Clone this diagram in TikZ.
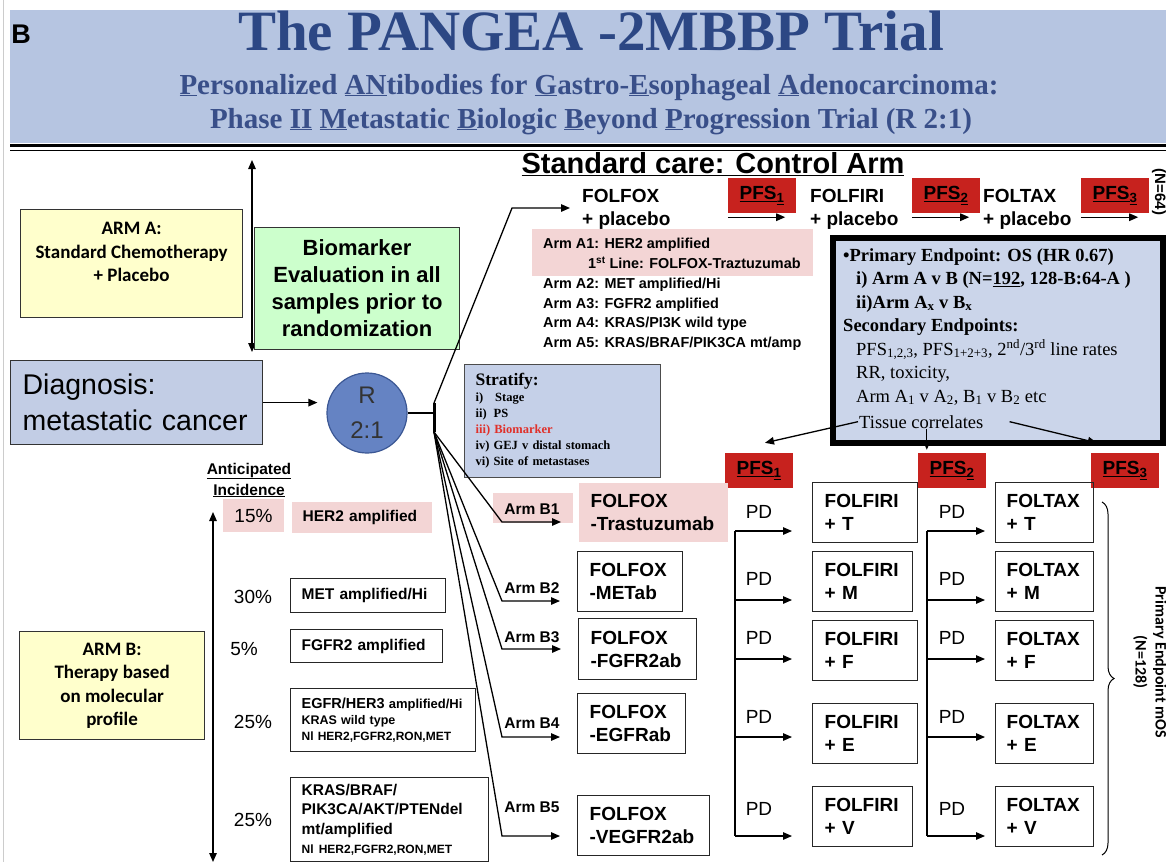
\documentclass[tikz,border=0pt]{standalone}
\usepackage{fontspec}
\setmainfont{Liberation Sans}
\newfontfamily\timesfont{Liberation Serif}
\newfontfamily\califont{Carlito}
\usetikzlibrary{arrows.meta}
\usetikzlibrary{calc}
\usetikzlibrary{decorations.pathreplacing}

\definecolor{bannerblue}{HTML}{B6C5E1}
\definecolor{titleblue}{HTML}{2C4784}
\definecolor{subblue}{HTML}{394F89}
\definecolor{diagblue}{HTML}{C2CDE5}
\definecolor{circblue}{HTML}{6583C3}
\definecolor{circedge}{HTML}{3B5794}
\definecolor{stratblue}{HTML}{C5D0E8}
\definecolor{endblue}{HTML}{CBD5EA}
\definecolor{armyellow}{HTML}{FFFFCC}
\definecolor{biogreen}{HTML}{CCFFCC}
\definecolor{herpink}{HTML}{F3D5D5}
\definecolor{pfsred}{HTML}{C7221E}
\definecolor{biored}{HTML}{E0302A}

\tikzset{
  armbox/.style={draw=black!80,line width=1.2pt,fill=armyellow,anchor=north west,
    inner sep=0pt,align=center,font=\califont\bfseries\fontsize{19}{23.5}\selectfont},
  drugbox/.style={draw=black!85,line width=1.3pt,anchor=north west,align=left,
    inner xsep=12pt,inner ysep=0pt,font=\bfseries\fontsize{19}{23}\selectfont},
  markbox/.style={draw=black!85,line width=1.3pt,anchor=north west,align=left,
    inner xsep=11pt,inner ysep=0pt,font=\bfseries\fontsize{15.5}{19.5}\selectfont},
  pfsbox/.style={fill=pfsred,minimum width=68pt,minimum height=35pt,inner sep=0pt,
    font=\bfseries\fontsize{19}{20}\selectfont},
  ctlarm/.style={anchor=west,inner sep=0pt,align=left,font=\bfseries\fontsize{19}{23}\selectfont},
  pct/.style={font=\fontsize{19}{22}\selectfont},
  pdlbl/.style={font=\fontsize{19}{22}\selectfont},
  armlbl/.style={font=\bfseries\fontsize{15.5}{18}\selectfont},
  arr/.style={->,line width=1.3pt},
}

\begin{document}
\begin{tikzpicture}[x=1pt,y=-1pt,>={Triangle[length=9pt,width=7.5pt]}]

  \useasboundingbox (0,0) rectangle (1166,862);
  \fill[white] (0,0) rectangle (1166,862);

  % banner
  \fill[bannerblue] (10,10) rectangle (1166,143);
  \draw[line width=3pt] (10,145) -- (1166,145);
  \draw[line width=1.2pt] (10,150.5) -- (1166,150.5);
  \draw[black!20,line width=0.8pt] (3,0) -- (3,862);

  \node[font=\bfseries\fontsize{27}{28}\selectfont] (panel) at (21,34) {B};
  \node[font=\timesfont\bfseries\fontsize{57}{60}\selectfont,text=titleblue,anchor=base] (title)
    at (591,50) {The PANGEA -2MBBP Trial};
  \node[font=\timesfont\bfseries\fontsize{29}{30}\selectfont,text=subblue,anchor=base] (subA)
    at (589,94) {\underline{P}ersonalized \underline{AN}tibodies for \underline{G}astro-\underline{E}sophageal \underline{A}denocarcinoma:};
  \node[font=\timesfont\bfseries\fontsize{29}{30}\selectfont,text=subblue,anchor=base] (subB)
    at (591,128) {Phase \underline{II} \underline{M}etastatic \underline{B}iologic \underline{B}eyond \underline{P}rogression Trial (R 2:1)};

  % left column
  \node[armbox,minimum width=222pt,minimum height=108pt] (armA) at (20,209)
    {ARM A:\\Standard Chemotherapy\\+ Placebo\\\mbox{}};
  \node[armbox,minimum width=185pt,minimum height=108pt] (armB) at (19,631)
    {ARM B:\\Therapy based\\on molecular\\profile};

  \coordinate (evtop) at (252,160);
  \coordinate (evbot) at (252,352);
  \draw[<->,line width=1.3pt] (evtop) -- (evbot);

  \node[draw=black!80,line width=1.2pt,fill=biogreen,anchor=north west,minimum width=205pt,
    minimum height=122pt,inner sep=0pt,align=center,font=\bfseries\fontsize{22}{27}\selectfont] (bio)
    at (254,227) {Biomarker\\Evaluation in all\\samples prior to\\randomization};

  \node[draw=black!80,line width=1.2pt,fill=diagblue,anchor=north west,minimum height=84pt,
    text width=228pt,inner xsep=12pt,inner ysep=0pt,align=left,font=\fontsize{28.5}{36}\selectfont] (diag)
    at (10,360) {Diagnosis:\\metastatic cancer};

  \node[circle,fill=circblue,draw=circedge,line width=1.2pt,minimum size=80pt,inner sep=0pt,
    align=center,text=black!80,font=\fontsize{24}{35}\selectfont] (rand) at (367,413) {R\\2:1};

  \draw[arr,shorten >=9pt] (diag.east) -- (diag.east -| rand.west);

  \coordinate (bartop) at (434,403);
  \coordinate (barbot) at (434,432);
  \draw[line width=1.3pt] (rand.east) -- (rand.east -| bartop);
  \draw[line width=3pt] (bartop) -- (barbot);

  % incidence
  \node[font=\bfseries\fontsize{15.5}{21}\selectfont,align=center] (inc) at (249,480)
    {\underline{Anticipated}\\\underline{Incidence}};
  \coordinate (inctop) at (213,512);
  \coordinate (incbot) at (213,862);
  \draw[<->,line width=1.3pt] (inctop) -- (incbot);

  \node[fill=herpink,minimum width=61pt,minimum height=33pt,inner sep=0pt,pct] (pc1) at (253.5,515.5) {15\%};
  \node[markbox,draw=none,fill=herpink,text width=118pt,minimum height=31pt] (mk1) at (291,501) {HER2 amplified};
  \node[pct] (pc2) at (253,597) {30\%};
  \node[markbox,text width=133pt,minimum height=34pt] (mk2) at (290,578) {MET amplified/Hi};
  \node[pct] (pc3) at (244,649) {5\%};
  \node[markbox,text width=130pt,minimum height=33pt] (mk3) at (290,629) {FGFR2 amplified};
  \node[pct] (pc4) at (253,722) {25\%};
  \node[markbox,text width=163pt,minimum height=63pt,font=\bfseries\fontsize{12.5}{16}\selectfont] (mk4) at (290,688)
    {{\fontsize{14.5}{16}\selectfont EGFR/HER3} {\fontsize{13}{16}\selectfont amplified/Hi}\\KRAS wild type\\{\fontsize{12}{16}\selectfont Nl HER2,FGFR2,RON,MET}};
  \node[pct] (pc5) at (253,820) {25\%};
  \node[markbox,text width=176pt,minimum height=84pt] (mk5) at (290,777)
    {KRAS/BRAF/\\PIK3CA/AKT/PTENdel\\mt/amplified\\{\fontsize{12}{14}\selectfont Nl HER2,FGFR2,RON,MET}};

  % stratification
  \node[draw=black!70,line width=1.2pt,fill=stratblue,anchor=north west,minimum height=113pt,
    text width=174pt,inner xsep=11pt,inner ysep=0pt,align=left,
    font=\timesfont\bfseries\fontsize{12.5}{16}\selectfont] (strat) at (464,364)
    {{\fontsize{17.5}{20}\selectfont Stratify:}\\
     i)\hspace{12pt}Stage\\
     ii)\hspace{7pt}PS\\
     \textcolor{biored}{iii) Biomarker}\\
     iv) GEJ v distal stomach\\
     vi) Site of metastases};

  % control arm
  \node[font=\bfseries\fontsize{29}{30}\selectfont] (ctltitle) at (713,164) {\underline{Standard care: Control Arm}};
  \node[ctlarm] (ctlA) at (582,209) {FOLFOX\\+ placebo};
  \node[ctlarm] (ctlB) at (810,209) {FOLFIRI\\+ placebo};
  \node[ctlarm] (ctlC) at (983,209) {FOLTAX\\+ placebo};
  \node[pfsbox] (pfsA1) at (762,195.5) {\underline{PFS}\textsubscript{\underline{1}}};
  \node[pfsbox] (pfsA2) at (946,195.5) {\underline{PFS}\textsubscript{\underline{2}}};
  \node[pfsbox] (pfsA3) at (1115,195.5) {\underline{PFS}\textsubscript{\underline{3}}};
  \foreach \p in {A1,A2,A3}
    \draw[arr] ([yshift=-4pt]pfs\p.south west) -- ([xshift=-11pt,yshift=-4pt]pfs\p.south east);
  \node[rotate=-90,font=\bfseries\fontsize{15}{16}\selectfont] (n64) at (1159,192) {(N=64)};

  \node[fill=herpink,anchor=north west,minimum width=281pt,minimum height=47pt,inner sep=0pt] (pinkA) at (532,229) {};
  \node[anchor=north west,inner sep=0pt,align=left,font=\bfseries\fontsize{14.4}{19.8}\selectfont] (armlist) at (543,238)
    {Arm A1: HER2 amplified\\
     \hspace*{45pt}1\textsuperscript{st} Line: FOLFOX-Traztuzumab\\
     Arm A2: MET amplified/Hi\\
     Arm A3: FGFR2 amplified\\
     Arm A4: KRAS/PI3K wild type\\
     Arm A5: KRAS/BRAF/PIK3CA mt/amp};

  \coordinate (ctlbend) at (512,208);
  \draw[arr,shorten >=12pt] (bartop) -- (ctlbend) -- (ctlbend -| ctlA.west);

  % endpoints
  \node[fill=endblue,draw=black,line width=4.5pt,anchor=north west,minimum width=331pt,
    minimum height=206pt,inner sep=0pt] (endpt) at (830,235) {};
  \draw[line width=0.9pt] ([shift={(5.5pt,-5.5pt)}]endpt.north west) rectangle ([shift={(-5.5pt,5.5pt)}]endpt.south east);
  \node[anchor=north west,inner sep=0pt,align=left,font=\timesfont\fontsize{18.5}{23.5}\selectfont] (eptxt) at (843,248)
    {\textbf{\textbullet Primary Endpoint: OS (HR 0.67)}\\
     \hspace*{13pt}\textbf{i) Arm A v B (N=\underline{192}, 128-B:64-A )}\\
     \hspace*{13pt}\textbf{ii)Arm A\textsubscript{x} v B\textsubscript{x}}\\
     \textbf{Secondary Endpoints:}\\
     \hspace*{13pt}PFS\textsubscript{1,2,3}, PFS\textsubscript{1+2+3}, 2\textsuperscript{nd}/3\textsuperscript{rd} line rates\\
     \hspace*{13pt}RR, toxicity,\\
     \hspace*{13pt}Arm A\textsubscript{1} v A\textsubscript{2}, B\textsubscript{1} v B\textsubscript{2} etc};
  \node[anchor=base west,inner sep=1pt,font=\timesfont\fontsize{18.5}{23.5}\selectfont] (tissue) at (858,428) {Tissue correlates};

  % experimental arm
  \node[pfsbox] (pfsB1) at (759,470.5) {\underline{PFS}\textsubscript{\underline{1}}};
  \node[pfsbox] (pfsB2) at (952,470.5) {\underline{PFS}\textsubscript{\underline{2}}};
  \node[pfsbox] (pfsB3) at (1125,470.5) {\underline{PFS}\textsubscript{\underline{3}}};

  \draw[arr] (tissue.west) -- ([xshift=6pt,yshift=10pt]pfsB1.north);
  \draw[arr] ([xshift=9pt]pfsB2.north west |- tissue.south) -- ([xshift=9pt,yshift=3pt]pfsB2.north west);
  \draw[arr] ([xshift=25pt]tissue.east) -- ([xshift=6pt,yshift=10pt]pfsB3.north west);

  \node[fill=herpink,minimum width=80pt,minimum height=30pt,inner sep=0pt] (pinkB1) at (533,508) {};
  \node[drugbox,draw=none,fill=herpink,text width=125pt,minimum height=59pt] (fB1) at (578,482) {FOLFOX\\-Trastuzumab};
  \node[drugbox,text width=81pt,minimum height=60pt] (fB2) at (577,551) {FOLFOX\\-METab};
  \node[drugbox,text width=94pt,minimum height=61pt] (fB3) at (578,618) {FOLFOX\\-FGFR2ab};
  \node[drugbox,text width=84pt,minimum height=60pt] (fB4) at (577,693) {FOLFOX\\-EGFRab};
  \node[drugbox,text width=108pt,minimum height=60pt] (fB5) at (577,795) {FOLFOX\\-VEGFR2ab};

  \foreach \i/\ya/\yl in {1/522/509, 2/601/588, 3/649/637, 4/737/723, 5/836/807} {
    \coordinate (bend\i) at (502,\ya);
    \draw[arr,shorten >=17pt] (barbot) -- (bend\i) -- (bend\i -| fB\i.west);
    \node[armlbl] (lblB\i) at (532,\yl) {Arm B\i};
  }

  \foreach \rw/\yt/\ya/\yp/\w in {T/482/531/512/81, M/551/600/579/76, F/620/659/638/81,
                                  E/703/737/717/81, V/786/836/809/76} {
    \node[drugbox,text width=\w pt,minimum height=60pt] (fi\rw) at (812,\yt) {FOLFIRI\\+ \rw};
    \node[drugbox,inner xsep=11pt,text width=76pt,minimum height=60pt] (ft\rw) at (995,\yt) {FOLTAX\\+ \rw};
    \node[pdlbl] (pda\rw) at (759,\yp) {PD};
    \node[pdlbl] (pdb\rw) at (952,\yp) {PD};
    \coordinate (ra\rw) at (735,\ya);
    \coordinate (rb\rw) at (927,\ya);
    \draw[arr,shorten >=20pt] (ra\rw) -- (ra\rw -| fi\rw.west);
    \draw[arr,shorten >=10pt] (rb\rw) -- (rb\rw -| ft\rw.west);
  }
  \draw[line width=2.6pt] (raT) -- (raV);
  \draw[line width=2.6pt] (rbT) -- (rbV);

  \coordinate (bracetop) at (1102,502);
  \coordinate (bracebot) at (1102,855);
  \draw[decorate,decoration={brace,amplitude=12pt},line width=1pt] (bracetop) -- (bracebot);
  \node[rotate=-90,align=center,font=\califont\bfseries\fontsize{16}{20}\selectfont] (mos) at (1150,662)
    {Primary Endpoint mOS\\(N=128)};

\end{tikzpicture}
\end{document}
